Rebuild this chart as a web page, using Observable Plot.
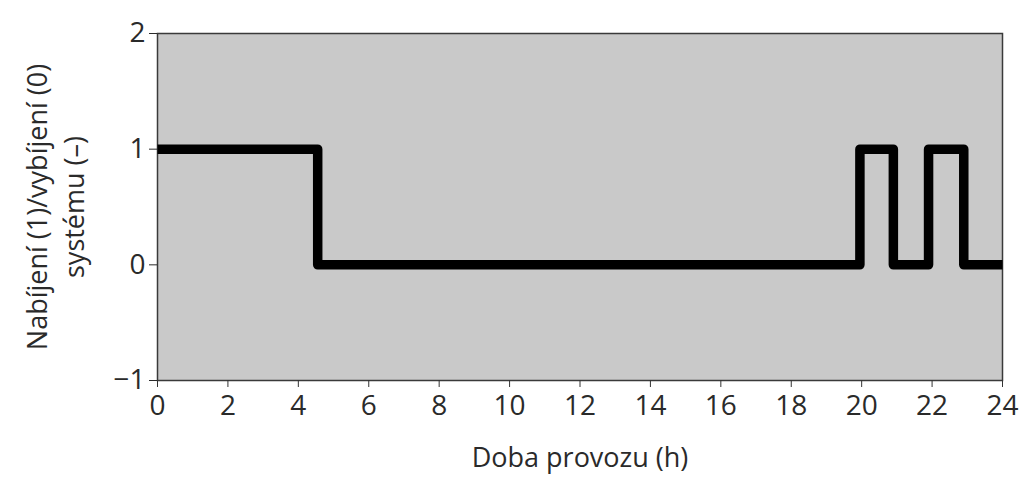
<!DOCTYPE html>
<html>
<head>
<meta charset="utf-8">
<script src="https://cdn.jsdelivr.net/npm/d3@7"></script>
<script src="https://cdn.jsdelivr.net/npm/@observablehq/plot@0.6"></script>
<style>
  html, body { margin: 0; padding: 0; background: #fff; }
  #chart svg g[aria-label="x-axis tick label"] text,
  #chart svg g[aria-label="y-axis tick label"] text { font-size: 28px; }
</style>
</head>
<body>
<div id="chart"></div>
<script>
const hours = [0, 4.55, 19.95, 20.9, 21.9, 22.9, 24];
const state = [1, 0, 1, 0, 1, 0, 0];
const xTicks = [0, 2, 4, 6, 8, 10, 12, 14, 16, 18, 20, 22, 24];
const yTicks = [-1, 0, 1, 2];
const xLabel = "Doba provozu (h)";
const yLabel = "Nabíjení (1)/vybíjení (0)\nsystému (–)";

const data = hours.map((h, i) => ({h, s: state[i]}));

const chart = Plot.plot({
  width: 1024,
  height: 489,
  marginLeft: 157,
  marginRight: 22,
  marginTop: 33,
  marginBottom: 109,
  style: {fontFamily: "'Open Sans', 'DejaVu Sans', sans-serif", fontSize: "28px", color: "#2a2a2a", background: "#fff"},
  x: {domain: [0, 24], ticks: xTicks},
  y: {domain: [-1, 2], ticks: yTicks},
  marks: [
    Plot.frame({fill: "#c9c9c9", stroke: "#3a3a3a", strokeWidth: 1.5}),
    Plot.axisX({ticks: xTicks, tickSize: 7, tickPadding: 8, label: null, stroke: "#333"}),
    Plot.axisY({ticks: yTicks, tickSize: 8, tickPadding: 4, label: null, tickFormat: d => d < 0 ? "−" + Math.abs(d) : String(d)}),
    Plot.text([xLabel], {frameAnchor: "bottom", dy: 86, fontSize: 27, fill: "#2a2a2a"}),
    Plot.text([yLabel], {frameAnchor: "left", dx: -104, rotate: -90, fontSize: 27, lineHeight: 1.37, fill: "#2a2a2a", textAnchor: "middle"}),
    Plot.line(data, {x: "h", y: "s", curve: "step-after", stroke: "#000", strokeWidth: 9.5, strokeLinejoin: "round", strokeLinecap: "butt"})
  ]
});
document.getElementById("chart").appendChild(chart);
</script>
</body>
</html>
